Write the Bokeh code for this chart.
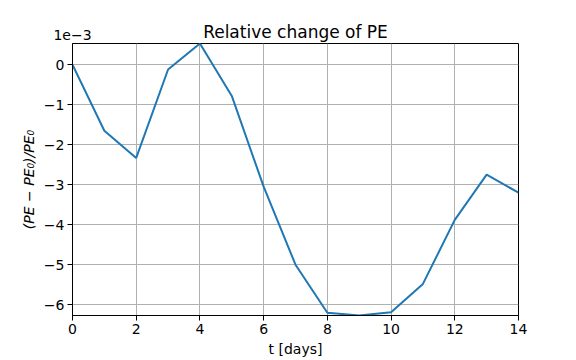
from bokeh.plotting import figure
from bokeh.models import Range1d, FixedTicker, LinearAxis, CustomJSTickFormatter
from bokeh.embed import file_html
from bokeh.resources import INLINE

# Data (relative change of PE, in units of 1e-3)
t_days = [0, 1, 2, 3, 4, 5, 6, 7, 8, 9, 10, 11, 12, 13, 14]
rel_pe_e3 = [0.0, -1.65, -2.33, -0.12, 0.53, -0.78, -3.05, -5.0, -6.2, -6.27,
             -6.19, -5.48, -3.88, -2.75, -3.2]
x_ticks = [0, 2, 4, 6, 8, 10, 12, 14]
y_ticks = [0, -1, -2, -3, -4, -5, -6]
title_text = "Relative change of PE"
scale_text = "1e\u22123"

FONT = "DejaVu Sans"

p = figure(width=576, height=360, output_backend="svg", toolbar_location=None,
           x_range=Range1d(0, 14), y_range=Range1d(-6.27, 0.53),
           min_border_left=72, min_border_right=58, min_border_top=43,
           min_border_bottom=45)

p.line(t_days, rel_pe_e3, line_color="#1f77b4", line_width=2)

xax = p.below[0]
yax = p.left[0]
xax.ticker = FixedTicker(ticks=x_ticks)
yax.ticker = FixedTicker(ticks=y_ticks)
fmt = CustomJSTickFormatter(code="return String(tick).replace('-', '\u2212');")
xax.formatter = fmt
yax.formatter = fmt

for ax in (xax, yax):
    ax.major_label_text_font = FONT
    ax.major_label_text_font_size = "14px"
    ax.major_label_text_color = "black"
    ax.axis_label_text_font = FONT
    ax.axis_label_text_font_size = "14px"
    ax.axis_label_text_font_style = "normal"
    ax.axis_label_text_color = "black"
    ax.major_tick_out = 5
    ax.major_tick_in = 0
    ax.minor_tick_out = 0
    ax.minor_tick_in = 0
    ax.axis_line_color = "black"
    ax.major_tick_line_color = "black"
    ax.major_label_standoff = 3
    ax.axis_label_standoff = 4

xax.axis_label = "t [days]"
yax.axis_label = "(PE \u2212 PE\u2080)/PE\u2080"
yax.axis_label_text_font_style = "italic"

# Top axis carrying the offset text "1e-3" (left) and the title (centre)
top = LinearAxis(ticker=FixedTicker(ticks=[0]),
                 major_label_overrides={0: scale_text},
                 major_label_text_align="left",
                 major_label_text_font=FONT, major_label_text_font_size="14px",
                 major_label_text_color="black", major_label_standoff=4,
                 major_tick_out=0, major_tick_in=0, minor_tick_out=0, minor_tick_in=0,
                 axis_line_color=None,
                 axis_label=title_text, axis_label_text_font=FONT,
                 axis_label_text_font_size="17px", axis_label_text_font_style="normal",
                 axis_label_text_color="black", axis_label_standoff=-15)
p.add_layout(top, "above")

p.xgrid.ticker = FixedTicker(ticks=x_ticks)
p.ygrid.ticker = FixedTicker(ticks=y_ticks)
p.grid.grid_line_color = "#b0b0b0"
p.grid.grid_line_width = 1

p.outline_line_color = "black"
p.outline_line_width = 1
p.background_fill_color = "white"
p.border_fill_color = "white"

open("out.html", "w").write(file_html(p, INLINE))
